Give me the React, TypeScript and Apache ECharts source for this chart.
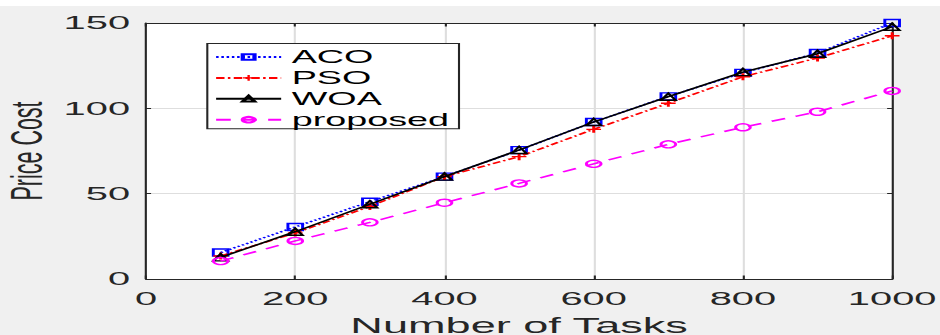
import React, { useEffect, useRef } from 'react';
import * as echarts from 'echarts';

// Data
const tasks = [100, 200, 300, 400, 500, 600, 700, 800, 900, 1000];
const acoCost = [15.5, 30.5, 45.3, 60, 75.5, 92, 107, 120.8, 132.4, 150];
const psoCost = [13.5, 27, 42.5, 60, 71.7, 87.7, 103, 118.5, 129.5, 142.5];
const woaCost = [12.7, 27.7, 43.8, 60, 75.6, 92, 106.8, 121.2, 132, 147.8];
const proposedCost = [10.5, 22.3, 33.2, 44.7, 56, 67.5, 78.9, 88.9, 98, 110.2];
const seriesNames = ['ACO', 'PSO', 'WOA', 'proposed'];

// The reference is a horizontally stretched figure: draw at native width and stretch.
const W = 448;
const H = 335;
const SX = 940 / W;
const FONT = '"Liberation Sans", Arial, Helvetica, sans-serif';
const AXIS = '#262626';

export default function App() {
  const ref = useRef<HTMLDivElement>(null);

  useEffect(() => {
    const chart = echarts.init(ref.current as HTMLDivElement, null, { renderer: 'svg' });
    const pairs = (ys: number[]) => tasks.map((x, i) => [x, ys[i]]);
    const plusPath = 'path://M4,0H6V4H10V6H6V10H4V6H0V4H4Z';

    const common = {
      type: 'line',
      xAxisIndex: 0,
      yAxisIndex: 0,
      symbolSize: 7,
      showSymbol: true,
      emphasis: { disabled: true },
      silent: true,
    };

    chart.setOption({
      animation: false,
      backgroundColor: '#f0f0f0',
      textStyle: { fontFamily: FONT },
      graphic: [
        {
          type: 'rect',
          left: 0,
          top: 0,
          shape: { width: W, height: 6 },
          style: { fill: '#ffffff' },
          silent: true,
        },
      ],
      grid: {
        left: 69.6,
        right: 22.8,
        top: 23,
        bottom: 56,
        show: true,
        backgroundColor: '#ffffff',
        borderWidth: 0,
        containLabel: false,
        outerBoundsMode: 'none',
      },
      legend: {
        data: seriesNames,
        orient: 'vertical',
        left: 98.8,
        top: 43.5,
        padding: [4.5, 4.7, 0, 3.2],
        itemGap: 2.9,
        itemWidth: 31,
        itemHeight: 7,
        backgroundColor: '#ffffff',
        borderColor: AXIS,
        borderWidth: 1,
        borderRadius: 0,
        selectedMode: false,
        textStyle: { fontFamily: FONT, fontSize: 18, color: '#000000', lineHeight: 18 },
      },
      xAxis: [
        {
          type: 'value',
          position: 'bottom',
          min: 0,
          max: 1000,
          interval: 200,
          name: 'Number of Tasks',
          nameLocation: 'middle',
          nameGap: 35,
          nameTextStyle: { fontFamily: FONT, fontSize: 21.5, color: AXIS },
          axisLine: { show: true, onZero: false, lineStyle: { color: AXIS, width: 1 } },
          axisTick: { show: true, inside: true, length: 3.5, lineStyle: { color: AXIS, width: 1 } },
          axisLabel: {
            fontFamily: FONT,
            fontSize: 19,
            color: AXIS,
            margin: 10,
            formatter: (v: number) => String(v),
          },
          splitLine: { show: true, lineStyle: { color: '#dedede', width: 1 } },
        },
        {
          type: 'value',
          position: 'top',
          min: 0,
          max: 1000,
          interval: 200,
          axisLine: { show: true, onZero: false, lineStyle: { color: AXIS, width: 1 } },
          axisTick: { show: true, inside: true, length: 3.5, lineStyle: { color: AXIS, width: 1 } },
          axisLabel: { show: false },
          splitLine: { show: false },
        },
      ],
      yAxis: [
        {
          type: 'value',
          position: 'left',
          min: 0,
          max: 150,
          interval: 50,
          name: 'Price Cost',
          nameLocation: 'middle',
          nameGap: 46,
          nameRotate: 90,
          nameMoveOverlap: false,
          nameTextStyle: { fontFamily: FONT, fontSize: 21.5, color: AXIS },
          axisLine: { show: true, onZero: false, lineStyle: { color: AXIS, width: 1 } },
          axisTick: { show: true, inside: true, length: 2.4, lineStyle: { color: AXIS, width: 1 } },
          axisLabel: { fontFamily: FONT, fontSize: 19, color: AXIS, margin: 7.6 },
          splitLine: { show: true, lineStyle: { color: '#dedede', width: 1 } },
        },
        {
          type: 'value',
          position: 'right',
          min: 0,
          max: 150,
          interval: 50,
          axisLine: { show: true, onZero: false, lineStyle: { color: AXIS, width: 1 } },
          axisTick: { show: true, inside: true, length: 2.4, lineStyle: { color: AXIS, width: 1 } },
          axisLabel: { show: false },
          splitLine: { show: false },
        },
      ],
      series: [
        {
          ...common,
          name: 'ACO',
          data: pairs(acoCost),
          symbol: 'rect',
          itemStyle: { color: 'rgba(0,0,0,0)', borderColor: '#0000ff', borderWidth: 1.4 },
          lineStyle: { color: '#0000ff', width: 1.5, type: [1.2, 1.3] },
          z: 2,
        },
        {
          ...common,
          name: 'PSO',
          data: pairs(psoCost),
          symbol: plusPath,
          itemStyle: { color: '#ff0000', borderWidth: 0 },
          lineStyle: { color: '#ff0000', width: 1.5, type: [4, 1.6, 1.2, 1.6] },
          z: 3,
        },
        {
          ...common,
          name: 'WOA',
          data: pairs(woaCost),
          symbol: 'triangle',
          itemStyle: { color: 'rgba(0,0,0,0)', borderColor: '#000000', borderWidth: 1.4 },
          lineStyle: { color: '#000000', width: 1.5, type: 'solid' },
          z: 4,
        },
        {
          ...common,
          name: 'proposed',
          data: pairs(proposedCost),
          symbol: 'circle',
          itemStyle: { color: 'rgba(0,0,0,0)', borderColor: '#ff00ff', borderWidth: 1.4 },
          lineStyle: { color: '#ff00ff', width: 1.5, type: [7, 5.4] },
          z: 5,
        },
      ],
    });

    return () => {
      chart.dispose();
    };
  }, []);

  return (
    <div
      style={{
        position: 'fixed',
        left: 0,
        top: 0,
        width: 940,
        height: 335,
        overflow: 'hidden',
        background: '#f0f0f0',
      }}
    >
      <div
        ref={ref}
        style={{ width: W, height: H, transform: `scaleX(${SX})`, transformOrigin: '0 0' }}
      />
    </div>
  );
}
